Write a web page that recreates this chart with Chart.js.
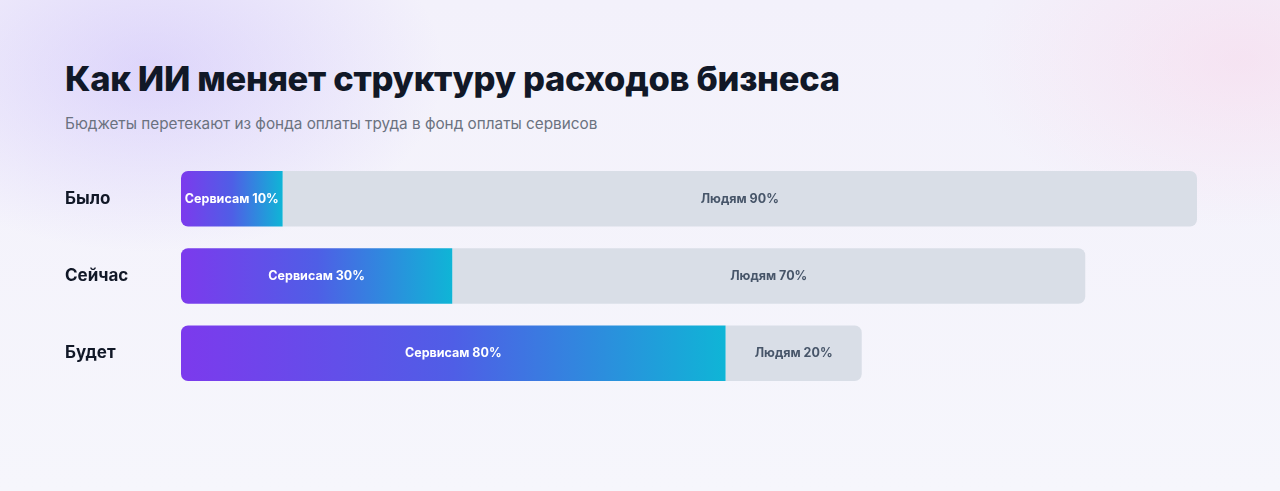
<!DOCTYPE html>
<html><head><meta charset="utf-8">
<script src="https://cdn.jsdelivr.net/npm/chart.js@4/dist/chart.umd.min.js"></script>
<style>
html,body{margin:0;width:1280px;height:491px;overflow:hidden;font-family:Inter,"Noto Sans",sans-serif;}
body{background:
 radial-gradient(ellipse 420px 260px at 150px 70px, rgba(180,160,250,0.35), transparent 70%),
 radial-gradient(ellipse 380px 240px at 1240px 60px, rgba(250,200,225,0.35), transparent 70%),
 linear-gradient(180deg,#f3f1fb,#f6f6fc);}
h1{position:absolute;left:65px;top:58px;margin:0;font-size:34.5px;font-weight:800;color:#111827;letter-spacing:-0.3px}
p{position:absolute;left:65px;top:114px;margin:0;font-size:15.3px;color:#6b7280}
#wrap{position:absolute;left:0;top:150px;width:1280px;height:252px}
</style></head><body>
<h1>Как ИИ меняет структуру расходов бизнеса</h1>
<p>Бюджеты перетекают из фонда оплаты труда в фонд оплаты сервисов</p>
<div id="wrap"><canvas id="c"></canvas></div>
<script>
const categories=["Было","Сейчас","Будет"];
const budgetTotals=[100,89,67];
const servicesShare=[10,30,80];
const peopleShare=[90,70,20];
const servicesVals=budgetTotals.map((t,i)=>t*servicesShare[i]/100);
const peopleVals=budgetTotals.map((t,i)=>t*peopleShare[i]/100);

function grad(ctx){
  const ch=ctx.chart; const a=ch.chartArea; if(!a) return '#6d28d9';
  const end=ch.scales.x.getPixelForValue(servicesVals[ctx.dataIndex]);
  const g=ch.ctx.createLinearGradient(a.left,0,end,0);
  g.addColorStop(0,'#7c3aed');g.addColorStop(0.5,'#4f5ee6');g.addColorStop(1,'#0fb5d6');
  return g;
}
const labelPlugin={id:'lbl',afterDatasetsDraw(ch){
  const c=ch.ctx;c.save();c.font='bold 12.5px Inter, "Noto Sans", sans-serif';c.textAlign='center';c.textBaseline='middle';
  ch.data.datasets.forEach((ds,di)=>{ch.getDatasetMeta(di).data.forEach((b,i)=>{
    const txt=(di===0?'Сервисам ':'Людям ')+(di===0?servicesShare[i]:peopleShare[i])+'%';
    c.fillStyle=di===0?'#ffffff':'#475569';
    c.fillText(txt,(b.base+b.x)/2,b.y);
  });});c.restore();}};
new Chart(document.getElementById('c'),{type:'bar',
 data:{labels:categories,datasets:[
  {data:servicesVals,backgroundColor:grad,borderRadius:{topLeft:7,bottomLeft:7},borderSkipped:false,barPercentage:0.72,categoryPercentage:1},
  {data:peopleVals,backgroundColor:'#d9dee7',borderRadius:{topRight:7,bottomRight:7},borderSkipped:false,barPercentage:0.72,categoryPercentage:1}]},
 options:{indexAxis:'y',responsive:true,maintainAspectRatio:false,animation:false,
  layout:{padding:{left:65,right:83,top:0,bottom:0}},
  plugins:{legend:{display:false},tooltip:{enabled:false}},
  scales:{x:{stacked:true,min:0,max:100,display:false},
   y:{stacked:true,grid:{display:false},border:{display:false},
    afterFit(s){s.width=116;},
    ticks:{crossAlign:'far',padding:0,color:'#111827',font:{size:17,weight:'bold',family:'Inter, "Noto Sans", sans-serif'}}}}},
 plugins:[labelPlugin]});
</script></body></html>
